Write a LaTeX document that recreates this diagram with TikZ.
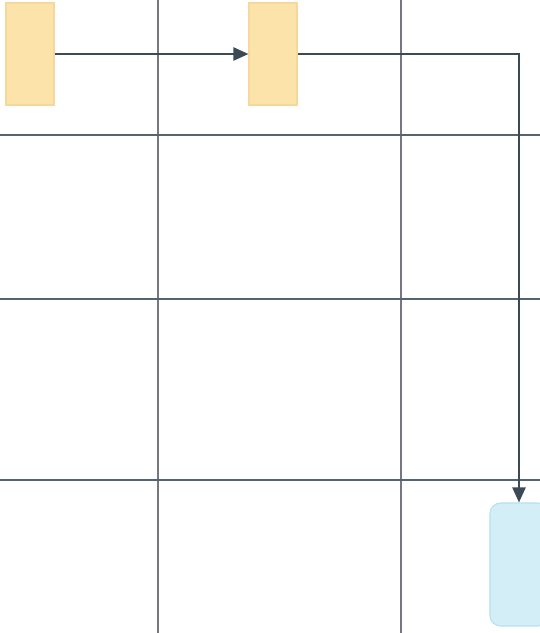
\documentclass[tikz,border=0pt]{standalone}
\usetikzlibrary{arrows.meta, positioning, calc}

\definecolor{boxorange}{HTML}{FCE3AA}
\definecolor{lineorange}{HTML}{F6D79C}
\definecolor{boxblue}{HTML}{D3EEF7}
\definecolor{lineblue}{HTML}{B5E1EF}
\definecolor{gridv}{HTML}{77777F}
\definecolor{gridh}{HTML}{56646E}
\definecolor{flow}{HTML}{3C4A56}

\tikzset{
  taskbox/.style={draw=lineorange, fill=boxorange, line width=0.6pt,
    minimum width=0.96cm, minimum height=2.04cm, inner sep=0pt},
  endbox/.style={draw=lineblue, fill=boxblue, line width=0.6pt, rounded corners=6pt,
    minimum width=1.16cm, minimum height=2.46cm, inner sep=0pt},
  flowline/.style={draw=flow, line width=1.3pt, -{Triangle[length=3mm, width=2.6mm]}}
}

\begin{document}
\begin{tikzpicture}[x=0.02cm, y=-0.02cm]
  \useasboundingbox (0,0) rectangle (540,633);
  \fill[white] (0,0) rectangle (540,633);

  % ===== Rejilla =====
  \draw[gridv, line width=0.8pt] (158,0) -- (158,633);
  \draw[gridv, line width=0.8pt] (401,0) -- (401,633);
  \draw[gridh, line width=0.8pt] (0,135) -- (540,135);
  \draw[gridh, line width=0.8pt] (0,299) -- (540,299);
  \draw[gridh, line width=0.8pt] (0,480) -- (540,480);

  % ===== Nodos =====
  \node[taskbox] (t1) at (30,54) {};
  \node[taskbox] (t2) at (273,54) {};
  \node[endbox] (fin) at (519,564.5) {};

  % ===== Conectores =====
  \draw[flowline] (t1.east) -- (t2.west);
  \draw[flowline] (t2.east) -| (fin.north);
\end{tikzpicture}
\end{document}
